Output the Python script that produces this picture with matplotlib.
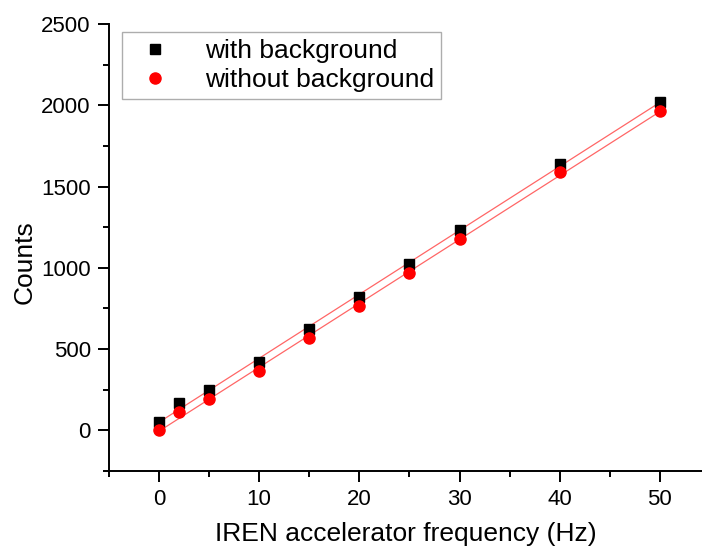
import numpy as np
import matplotlib.pyplot as plt
from matplotlib.ticker import MultipleLocator

plt.rcParams['font.family'] = ['Liberation Sans', 'DejaVu Sans']

freq = [0, 2, 5, 10, 15, 20, 25, 30, 40, 50]
with_bg = [51, 168, 246, 420, 626, 821, 1026, 1231, 1642, 2022]
without_bg = [0, 111, 193, 363, 568, 763, 969, 1176, 1587, 1966]

fig = plt.figure(figsize=(7.02, 5.48), dpi=100)
ax = fig.add_axes([0.155, 0.1405, 0.845, 0.8155])

# linear fits
xf = np.array([0, 50])
for ys in (with_bg, without_bg):
    k, b = np.polyfit(freq, ys, 1)
    ax.plot(xf, k * xf + b, color='red', lw=0.9, alpha=0.6, zorder=1)

ax.plot(freq, with_bg, 's', color='black', ms=7.5, label='with background', zorder=2)
ax.plot(freq, without_bg, 'o', color='red', ms=8, label='without background', zorder=3)

ax.set_xlim(-5, 54.2)
ax.set_ylim(-250, 2500)
ax.xaxis.set_major_locator(MultipleLocator(10))
ax.xaxis.set_minor_locator(MultipleLocator(5))
ax.yaxis.set_major_locator(MultipleLocator(500))
ax.yaxis.set_minor_locator(MultipleLocator(250))
ax.spines['top'].set_visible(False)
ax.spines['right'].set_visible(False)
ax.spines['left'].set_linewidth(1.4)
ax.spines['bottom'].set_linewidth(1.4)
ax.tick_params(which='major', direction='out', length=8, width=1.4, labelsize=16, pad=5)
ax.tick_params(which='minor', direction='out', length=4.5, width=1.4)

ax.set_xlabel('IREN accelerator frequency (Hz)', fontsize=19, labelpad=8.5)
ax.set_ylabel('Counts', fontsize=19)
ax.yaxis.set_label_coords(-0.122, 0.468)

leg = ax.legend(loc='upper left', bbox_to_anchor=(0.0, 1.011), fontsize=19,
                fancybox=False, edgecolor='#999999', handletextpad=0.9,
                borderpad=0.25, labelspacing=0.2, handlelength=2.0)
leg.get_frame().set_linewidth(1.0)

fig.savefig('out.png', dpi=100)
